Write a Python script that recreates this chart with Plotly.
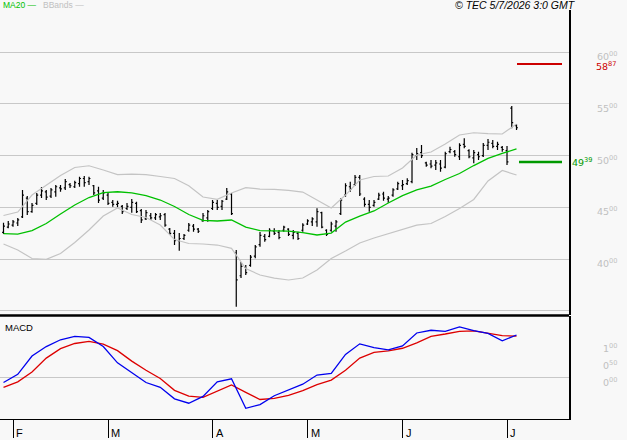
import plotly.graph_objects as go
import pandas as pd

# ---------------- data ----------------
start_date = "2026-01-29"
end_date = "2026-07-03"
holidays = ["2026-04-03", "2026-04-06", "2026-05-01"]
dates = [d for d in pd.bdate_range(start_date, end_date) if d.strftime("%Y-%m-%d") not in holidays]

opens = [42.6, 43.1, 43.3, 43.5, 44.1, 45.9, 44.6, 45.4, 46.2, 46.5,
         46.1, 46.5, 46.9, 46.9, 47.2, 47.0, 47.3, 47.8, 47.5, 47.1,
         46.6, 45.9, 46.2, 45.5, 45.3, 45.1, 44.9, 45.0, 45.4, 44.7,
         43.9, 44.2, 44.0, 44.1, 44.3, 42.9, 42.5, 41.8, 42.0, 42.8,
         43.2, 42.9, 43.7, 44.0, 44.9, 45.4, 45.1, 45.8, 46.3, 40.6,
         38.4, 39.2, 39.4, 40.3, 41.4, 42.2, 42.2, 42.7, 42.6, 42.8,
         42.9, 42.3, 42.5, 42.8, 43.4, 43.6, 43.6, 44.5, 42.8, 42.8,
         43.2, 44.4, 46.2, 47.0, 47.2, 47.9, 45.8, 45.3, 45.2, 45.8,
         46.3, 45.8, 46.2, 46.8, 47.1, 47.3, 47.5, 50.0, 50.3, 49.3,
         49.2, 49.1, 49.2, 48.9, 50.4, 50.4, 49.9, 51.1, 50.5, 49.8,
         50.1, 50.0, 51.0, 51.2, 50.9, 50.8, 50.5, 54.6, 52.9]
highs = [43.53, 43.69, 43.79, 43.98, 46.69, 46.11, 45.43, 46.40, 46.98, 46.69,
         46.88, 47.17, 47.17, 47.75, 47.36, 47.58, 47.97, 48.04, 47.97, 47.17,
         47.00, 46.69, 46.40, 45.72, 45.65, 45.24, 45.43, 45.82, 45.56, 44.85,
         44.75, 44.46, 44.46, 44.46, 44.46, 43.01, 42.82, 42.53, 42.43, 43.50,
         43.40, 43.01, 44.46, 44.75, 45.72, 45.72, 45.72, 46.88, 46.40, 40.89,
         39.73, 39.44, 40.41, 41.37, 42.63, 42.43, 42.99, 42.99, 42.82, 43.24,
         42.99, 42.82, 42.66, 43.47, 43.86, 44.05, 44.92, 44.59, 42.89, 43.62,
         43.79, 45.88, 47.33, 47.49, 48.14, 48.14, 45.98, 45.72, 45.72, 46.43,
         46.52, 46.11, 46.85, 47.49, 47.65, 47.82, 50.29, 50.74, 51.03, 49.42,
         49.58, 49.58, 49.58, 50.39, 50.87, 50.55, 51.20, 51.68, 50.62, 50.55,
         50.39, 51.23, 51.61, 51.52, 51.35, 50.94, 50.94, 54.80, 53.05]
lows = [42.43, 42.99, 43.14, 43.21, 43.98, 44.27, 44.49, 45.24, 45.91, 45.72,
        45.91, 46.04, 46.52, 46.69, 46.88, 46.88, 47.00, 47.00, 47.17, 46.20,
        45.43, 45.72, 45.24, 45.07, 45.01, 44.37, 44.75, 44.49, 44.46, 43.50,
        43.79, 43.79, 43.79, 43.79, 43.14, 42.34, 41.37, 40.82, 41.86, 42.66,
        42.66, 42.53, 43.62, 43.62, 44.75, 44.75, 44.75, 45.72, 44.27, 35.41,
        38.18, 38.47, 39.28, 40.09, 41.21, 41.69, 42.12, 42.34, 41.92, 42.66,
        42.24, 41.92, 41.86, 42.66, 43.30, 43.21, 43.14, 42.99, 42.24, 42.66,
        42.66, 44.27, 46.04, 46.52, 47.07, 46.11, 45.07, 44.59, 45.07, 45.72,
        45.65, 45.46, 46.04, 46.69, 46.69, 47.17, 47.33, 49.58, 49.78, 48.94,
        48.78, 48.62, 48.45, 48.78, 50.23, 49.90, 49.58, 50.71, 49.75, 49.27,
        49.58, 49.87, 50.55, 50.71, 50.55, 50.39, 49.10, 52.65, 52.48]
closes = [43.2, 43.4, 43.6, 43.8, 46.2, 44.6, 45.2, 46.2, 46.6, 46.0,
          46.7, 47.0, 46.8, 47.5, 47.1, 47.4, 47.8, 47.4, 47.8, 46.4,
          45.7, 46.4, 45.4, 45.3, 45.4, 44.6, 45.1, 45.5, 44.6, 43.8,
          44.5, 44.0, 44.3, 44.2, 43.3, 42.5, 41.8, 42.0, 42.3, 43.3,
          42.9, 42.7, 44.2, 44.6, 45.5, 45.0, 45.6, 46.5, 44.4, 38.0,
          39.3, 38.7, 40.2, 41.2, 42.3, 41.9, 42.8, 42.5, 42.1, 43.1,
          42.4, 42.6, 42.0, 43.3, 43.7, 43.9, 44.6, 43.1, 42.4, 43.4,
          43.6, 45.7, 47.1, 46.8, 47.9, 46.3, 45.3, 45.0, 45.5, 46.2,
          45.9, 45.9, 46.7, 47.3, 47.2, 47.6, 50.1, 50.2, 50.0, 49.1,
          49.0, 49.3, 48.8, 50.2, 50.6, 50.1, 51.0, 50.9, 49.9, 50.3,
          49.9, 51.0, 51.3, 50.9, 51.1, 50.6, 49.4, 53.2, 52.7]

# indicator readings, sampled every 3rd session
ind_step = 3
ma20 = [42.48, 42.43, 42.77, 43.45, 44.37, 45.24, 45.96, 46.44, 46.52, 46.40, 46.15, 45.72,
        45.09, 44.32, 43.76, 43.69, 43.79, 43.11, 42.77, 42.72, 42.72, 42.56, 42.34, 42.53,
        43.59, 44.17, 44.66, 45.43, 46.14, 46.69, 47.07, 47.70, 48.28, 49.05, 49.75, 50.23, 50.65]
bb_upper = [44.22, 44.56, 46.20, 47.12, 48.09, 48.86, 49.03, 48.62, 48.18, 48.23, 48.18, 47.99,
            47.80, 47.10, 46.01, 45.79, 46.40, 46.91, 46.78, 46.75, 46.66, 46.49, 45.72, 44.95,
            46.20, 47.65, 47.99, 48.04, 48.81, 50.07, 50.36, 51.13, 52.00, 52.22, 52.14, 52.10, 53.06]
bb_lower = [41.47, 40.89, 40.07, 39.99, 40.55, 41.61, 42.82, 44.17, 44.95, 44.32, 44.03, 43.30,
            41.90, 41.52, 41.47, 41.37, 41.05, 39.10, 38.47, 38.18, 37.99, 38.18, 38.96, 40.07,
            40.79, 41.57, 42.05, 42.48, 42.92, 43.30, 43.45, 44.13, 44.90, 45.77, 47.56, 48.57, 48.14]
macd = [-0.16, 0.08, 0.62, 0.90, 1.10, 1.20, 1.17, 0.90, 0.42, 0.12, -0.16, -0.30,
        -0.64, -0.77, -0.57, -0.14, -0.05, -0.92, -0.81, -0.55, -0.37, -0.21, 0.06, 0.11,
        0.67, 0.98, 0.87, 0.80, 0.92, 1.30, 1.38, 1.35, 1.48, 1.37, 1.29, 1.07, 1.24]
signal = [-0.30, -0.14, 0.15, 0.56, 0.84, 0.99, 1.05, 0.97, 0.78, 0.47, 0.20, -0.04,
          -0.39, -0.56, -0.60, -0.42, -0.23, -0.45, -0.66, -0.63, -0.54, -0.40, -0.22, -0.09,
          0.20, 0.56, 0.73, 0.77, 0.85, 1.01, 1.20, 1.27, 1.35, 1.36, 1.30, 1.22, 1.21]

price_ticks = [35, 40, 45, 50, 55, 60]
price_labels = [60, 55, 50, 45, 40]
macd_labels = [1.0, 0.5, 0.0]
resistance = 58.87
support = 49.39
stamp = "© TEC 5/7/2026 3:0 GMT"

# ---------------- figure ----------------
bg = "#f8f8f8"
grid = "#c8c8c8"
idx = list(range(len(dates)))
ind_idx = list(range(0, len(dates), ind_step))
month_idx = [i for i in range(1, len(dates)) if dates[i].month != dates[i - 1].month]
month_txt = [dates[i].strftime("%B")[0] for i in month_idx]
xr = [-0.74, 119.05]
FONT = "Liberation Sans, Arial, sans-serif"
LFONT = "DejaVu Sans"


def fmt(v):
    a, b = f"{v:.2f}".split(".")
    return f"{a}<sup>{b}</sup>"


fig = go.Figure()
fig.add_trace(go.Scatter(x=ind_idx, y=bb_upper, mode="lines", line=dict(color="#c4c4c4", width=1.2),
                         xaxis="x", yaxis="y", hoverinfo="skip"))
fig.add_trace(go.Scatter(x=ind_idx, y=bb_lower, mode="lines", line=dict(color="#c4c4c4", width=1.2),
                         xaxis="x", yaxis="y", hoverinfo="skip"))
fig.add_trace(go.Scatter(x=ind_idx, y=ma20, mode="lines", line=dict(color="#00c000", width=1.3),
                         xaxis="x", yaxis="y", hoverinfo="skip"))
fig.add_trace(go.Ohlc(x=idx, open=opens, high=highs, low=lows, close=closes,
                      increasing=dict(line=dict(color="black", width=1.2)),
                      decreasing=dict(line=dict(color="black", width=1.2)),
                      tickwidth=0.3, xaxis="x", yaxis="y", hoverinfo="skip"))
fig.add_trace(go.Scatter(x=ind_idx, y=signal, mode="lines", line=dict(color="#dd0000", width=1.3),
                         xaxis="x2", yaxis="y2", hoverinfo="skip"))
fig.add_trace(go.Scatter(x=ind_idx, y=macd, mode="lines", line=dict(color="#0000ee", width=1.3),
                         xaxis="x2", yaxis="y2", hoverinfo="skip"))

shapes = [
    dict(type="line", xref="paper", yref="paper", x0=0, x1=1, y0=0.2531, y1=0.2531,
         line=dict(color="black", width=2.5)),
    dict(type="line", xref="paper", yref="y", x0=517 / 569, x1=562 / 569, y0=resistance, y1=resistance,
         line=dict(color="#cc0000", width=2)),
    dict(type="line", xref="paper", yref="y", x0=519 / 569, x1=562 / 569, y0=support, y1=support,
         line=dict(color="#009900", width=2.5)),
]

ann = []
for v in price_labels:
    ann.append(dict(x=620 / 569, y=v, xref="paper", yref="y", text=fmt(v), showarrow=False,
                    xanchor="right", yanchor="middle", yshift=-4,
                    font=dict(family=LFONT, size=9.5, color="#c0c0c0")))
for v in macd_labels:
    ann.append(dict(x=620 / 569, y=v, xref="paper", yref="y2", text=fmt(v), showarrow=False,
                    xanchor="right", yanchor="middle", yshift=-5,
                    font=dict(family=LFONT, size=9.5, color="#c0c0c0")))
ann.append(dict(x=594 / 569, y=resistance, xref="paper", yref="y", text=fmt(resistance), showarrow=False,
                xanchor="left", yanchor="middle", yshift=-2,
                font=dict(family=LFONT, size=9.5, color="#cc0000")))
ann.append(dict(x=570 / 569, y=support, xref="paper", yref="y", text=fmt(support), showarrow=False,
                xanchor="left", yanchor="middle", font=dict(family=LFONT, size=9.5, color="#009900")))
for i, t in zip(month_idx, month_txt):
    ann.append(dict(x=i, y=0, xref="x2", yref="paper", text=t, showarrow=False, xanchor="left",
                    yanchor="middle", xshift=1, yshift=-14, font=dict(family=FONT, size=11, color="black")))
ann.append(dict(x=1 / 569, y=1 + 5 / 409, xref="paper", yref="paper", text="MA20 —", showarrow=False,
                xanchor="left", yanchor="middle", font=dict(family=FONT, size=8.5, color="#00c000")))
ann.append(dict(x=41 / 569, y=1 + 5 / 409, xref="paper", yref="paper", text="BBands —", showarrow=False,
                xanchor="left", yanchor="middle", font=dict(family=FONT, size=8.5, color="#c0c0c0")))
ann.append(dict(x=515 / 569, y=1 + 5 / 409, xref="paper", yref="paper", text="<i>" + stamp + "</i>",
                showarrow=False, xanchor="center", yanchor="middle",
                font=dict(family=FONT, size=10.5, color="black")))
ann.append(dict(x=3 / 569, y=(419 - 327) / 409, xref="paper", yref="paper", text="MACD", showarrow=False,
                xanchor="left", yanchor="middle", font=dict(family=FONT, size=9.5, color="black")))

fig.update_layout(
    width=627, height=440, margin=dict(l=0, r=58, t=10, b=21, pad=0),
    paper_bgcolor=bg, plot_bgcolor=bg, showlegend=False, hovermode=False,
    xaxis=dict(domain=[0, 1], range=xr, anchor="y", showgrid=False, showticklabels=False,
               zeroline=False, showline=False, ticks="", rangeslider=dict(visible=False)),
    yaxis=dict(domain=[0.2543, 1], range=[34.61, 64.08], tickvals=price_ticks, showticklabels=False,
               gridcolor=grid, gridwidth=1, zeroline=False, showline=True, linecolor="black",
               linewidth=1.5, side="right", ticks=""),
    xaxis2=dict(domain=[0, 1], range=xr, anchor="y2", tickvals=month_idx, ticks="outside", ticklen=18,
                tickcolor="black", tickwidth=1, showticklabels=False, showgrid=False, zeroline=False,
                showline=True, linecolor="black", linewidth=1),
    yaxis2=dict(domain=[0, 0.2518], range=[-1.235, 1.80], tickvals=[0], showticklabels=False,
                gridcolor=grid, gridwidth=1, zeroline=False, showline=True, linecolor="black",
                linewidth=1.5, side="right", ticks=""),
    shapes=shapes, annotations=ann,
)

fig.write_html("out.html")
